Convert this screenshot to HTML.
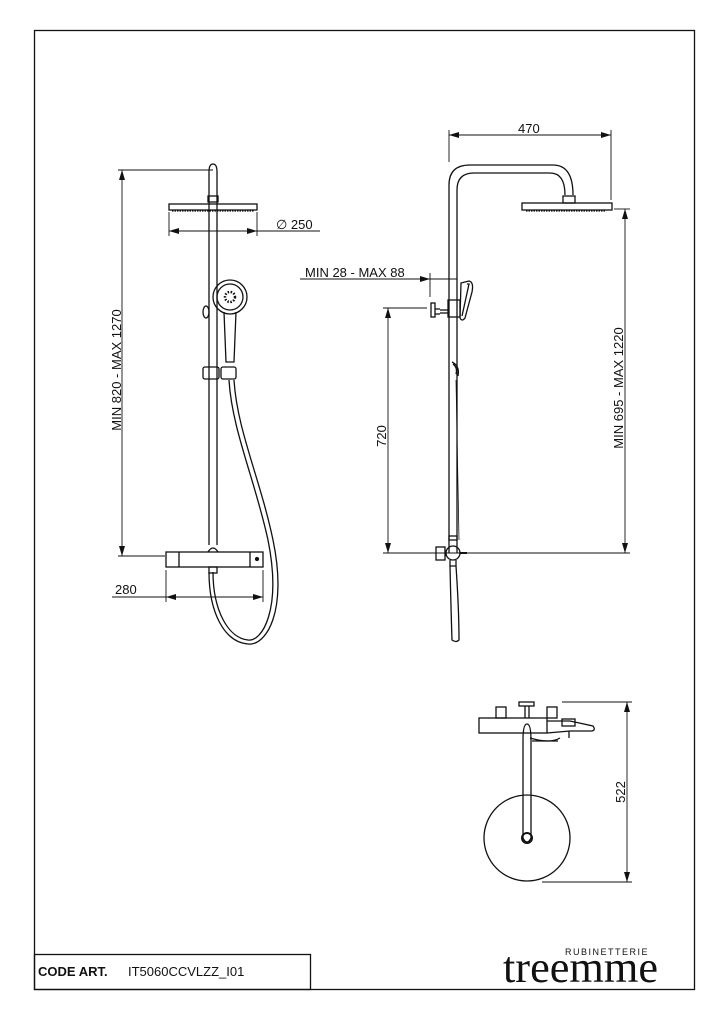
<!DOCTYPE html>
<html><head><meta charset="utf-8"><style>
html,body{margin:0;padding:0;background:#fff;}
svg{display:block;}
text{font-family:"Liberation Sans",sans-serif;fill:#111;}
</style></head><body>
<svg width="723" height="1024" viewBox="0 0 723 1024" xmlns="http://www.w3.org/2000/svg">
<defs>
<marker id="a" viewBox="0 0 10 6" refX="10" refY="3" markerWidth="10" markerHeight="6" orient="auto-start-reverse" markerUnits="userSpaceOnUse"><path d="M0,0 L10,3 L0,6 z" fill="#111"/></marker>
</defs>
<g fill="none" stroke="#111" stroke-width="1.3">
<rect x="34.5" y="30.5" width="660" height="959" stroke-width="1.3"/>
<rect x="34.5" y="954.5" width="276" height="35" stroke-width="1.3"/>

<!-- FRONT VIEW -->
<path d="M209,210 L209,172 Q209,164 213,164 Q217,164 217,172 L217,210"/>
<rect x="208" y="196" width="10" height="6"/>
<rect x="169" y="204" width="88" height="6"/>
<line x1="172" y1="211" x2="254" y2="211" stroke-dasharray="1.5,1"/>
<line x1="209" y1="210" x2="209" y2="545"/>
<line x1="217" y1="210" x2="217" y2="545"/>
<circle cx="230" cy="297" r="17"/>
<circle cx="230" cy="297" r="13"/>
<circle cx="230" cy="297" r="5" stroke-width="2.5" stroke-dasharray="1.5,1.5"/>
<path d="M224,312 L226,362 L234,362 L236,312"/>
<ellipse cx="206" cy="312" rx="3" ry="6"/>
<rect x="203" y="367" width="16" height="12" rx="2"/>
<rect x="221" y="367" width="15" height="12" rx="2"/>
<path d="M229,380 C232,430 255,480 268,540 C282,610 262,642 248,640 C228,638 213,610 213,572"/>
<path d="M234,380 C237,430 260,478 273,540 C288,612 266,646 248,644 C224,642 209,612 209,572"/>
<rect x="166" y="552" width="97" height="15"/>
<line x1="179" y1="552" x2="179" y2="567"/>
<line x1="250" y1="552" x2="250" y2="567"/>
<circle cx="257" cy="559" r="1.5" fill="#111"/>
<path d="M208,552 Q213,544 218,552"/>
<rect x="209" y="567" width="8" height="6"/>
<line x1="118" y1="170" x2="213" y2="170" stroke-width="0.9"/>
<line x1="118" y1="556" x2="165" y2="556" stroke-width="0.9"/>
<line x1="122" y1="170" x2="122" y2="556" stroke-width="0.9" marker-start="url(#a)" marker-end="url(#a)"/>
<line x1="169" y1="212" x2="169" y2="236" stroke-width="0.9"/>
<line x1="257" y1="212" x2="257" y2="236" stroke-width="0.9"/>
<line x1="169" y1="231" x2="257" y2="231" stroke-width="0.9" marker-start="url(#a)" marker-end="url(#a)"/>
<line x1="257" y1="231" x2="320" y2="231" stroke-width="0.9"/>
<line x1="166" y1="570" x2="166" y2="602" stroke-width="0.9"/>
<line x1="263" y1="570" x2="263" y2="602" stroke-width="0.9"/>
<line x1="166" y1="597" x2="263" y2="597" stroke-width="0.9" marker-start="url(#a)" marker-end="url(#a)"/>
<line x1="112" y1="597" x2="166" y2="597" stroke-width="0.9"/>

<!-- SIDE VIEW -->
<path d="M449,553 L449,185 Q449,165 470,165 L553,165 Q573,165 573,195"/>
<path d="M457,553 L457,190 Q457,173 474,173 L550,173 Q565,173 565,195"/>
<rect x="563" y="196" width="12" height="7"/>
<rect x="522" y="203" width="90" height="7"/>
<line x1="526" y1="211" x2="606" y2="211" stroke-dasharray="1.5,1"/>
<rect x="448" y="300" width="12" height="17"/>
<line x1="440" y1="310" x2="448" y2="310"/>
<line x1="440" y1="313" x2="448" y2="313"/>
<rect x="431" y="303" width="4" height="14"/>
<line x1="435" y1="309" x2="440" y2="309"/>
<line x1="435" y1="314" x2="440" y2="314"/>
<path d="M461,283 L469,281 Q474,282 472,292 L465,318 Q462,322 460,318 Z"/>
<path d="M467,284 L469,284 L462,316"/>
<path d="M452,362 Q460,366 458,376"/>
<path d="M453,364 Q458,368 456,374"/>
<circle cx="453" cy="553" r="7"/>
<rect x="436" y="547" width="9" height="13"/>
<line x1="445" y1="550" x2="446" y2="556"/>
<line x1="460" y1="553" x2="467" y2="553" stroke-width="2"/>
<rect x="449" y="536" width="8" height="4"/>
<path d="M450,560 L450,566 L456,566 L456,560"/>
<path d="M450,566 Q451,610 452,640 Q456,643 459,640 Q459,610 456,566"/>
<line x1="456" y1="380" x2="459" y2="540" stroke-width="0.8"/>
<line x1="449" y1="130" x2="449" y2="162" stroke-width="0.9"/>
<line x1="611" y1="130" x2="611" y2="200" stroke-width="0.9"/>
<line x1="449" y1="135" x2="611" y2="135" stroke-width="0.9" marker-start="url(#a)" marker-end="url(#a)"/>
<line x1="614" y1="209" x2="630" y2="209" stroke-width="0.9"/>
<line x1="383" y1="553" x2="630" y2="553" stroke-width="0.9"/>
<line x1="625" y1="209" x2="625" y2="553" stroke-width="0.9" marker-start="url(#a)" marker-end="url(#a)"/>
<line x1="383" y1="308" x2="427" y2="308" stroke-width="0.9"/>
<line x1="388" y1="308" x2="388" y2="553" stroke-width="0.9" marker-start="url(#a)" marker-end="url(#a)"/>
<line x1="300" y1="279" x2="430" y2="279" stroke-width="0.9" marker-end="url(#a)"/>
<line x1="430" y1="279" x2="457" y2="279" stroke-width="0.9"/>
<line x1="430" y1="273" x2="430" y2="297" stroke-width="0.9"/>

<!-- TOP VIEW -->
<circle cx="527" cy="838" r="43"/>
<rect x="479" y="718" width="68" height="15"/>
<rect x="496" y="707" width="10" height="11"/>
<rect x="547" y="707" width="10" height="11"/>
<rect x="519" y="702" width="15" height="4"/>
<line x1="525" y1="706" x2="525" y2="718"/>
<line x1="529" y1="706" x2="529" y2="718"/>
<path d="M547,721 L570,721 L593,726 Q596,730 592,731 L570,731 L547,733"/>
<rect x="562" y="719" width="13" height="7"/>
<line x1="569" y1="731" x2="569" y2="738"/>
<path d="M530,738 Q550,744 560,738"/>
<line x1="532" y1="741" x2="558" y2="741"/>
<path d="M523,740 L523,838 Q527,846 531,838 L531,740 Q531,724 527,724 Q523,724 523,740"/>
<circle cx="527" cy="838" r="5" stroke-width="2"/>
<line x1="562" y1="702" x2="632" y2="702" stroke-width="0.9"/>
<line x1="542" y1="882" x2="632" y2="882" stroke-width="0.9"/>
<line x1="627" y1="702" x2="627" y2="882" stroke-width="0.9" marker-start="url(#a)" marker-end="url(#a)"/>
</g>

<text x="276" y="229" font-size="13">∅ 250</text>
<text x="115" y="594" font-size="13">280</text>
<text transform="translate(121,370) rotate(-90)" font-size="13" text-anchor="middle">MIN 820 - MAX 1270</text>
<text x="518" y="133" font-size="13">470</text>
<text x="305" y="277" font-size="13">MIN 28 - MAX 88</text>
<text transform="translate(386,436) rotate(-90)" font-size="13" text-anchor="middle">720</text>
<text transform="translate(623,388) rotate(-90)" font-size="13" text-anchor="middle">MIN 695 - MAX 1220</text>
<text transform="translate(625,792) rotate(-90)" font-size="13" text-anchor="middle">522</text>
<text x="38" y="976" font-size="13" font-weight="bold">CODE ART.</text>
<text x="128" y="976" font-size="13">IT5060CCVLZZ_I01</text>
<text x="565" y="955" font-size="9" letter-spacing="1.5">RUBINETTERIE</text>
<text x="503" y="982" font-size="44" style="font-family:'Liberation Serif',serif" textLength="155" lengthAdjust="spacingAndGlyphs">treemme</text>
</svg>
</body></html>
